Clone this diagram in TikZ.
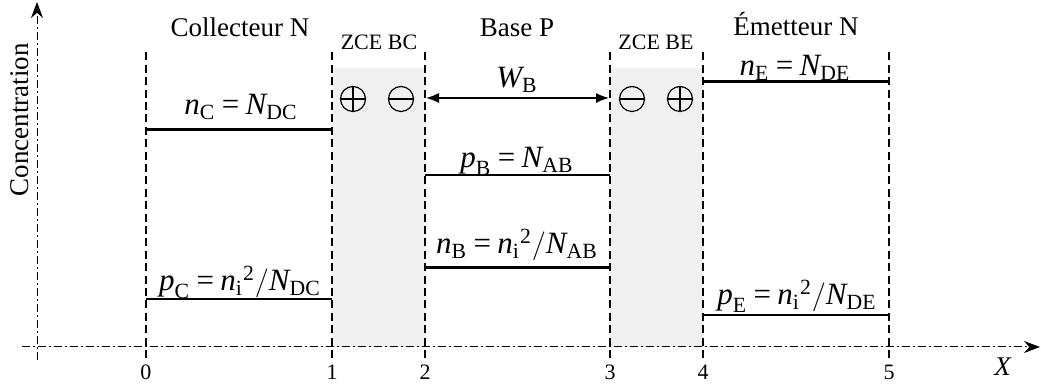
\documentclass[tikz,border=0pt]{standalone}
\usepackage{amsmath}
\usepackage{fontspec}
\setmainfont{Liberation Serif}
\usetikzlibrary{arrows.meta,positioning}

\newcommand{\vr}[1]{\text{\itshape #1}}
\newcommand{\eqs}{\mskip4mu\text{=}\mskip4mu}
\newcommand{\nisq}{\vr{n}_{\text{i}}{}^{\text{2}}}

\begin{document}
\begin{tikzpicture}[
  x=0.5pt,y=0.5pt,
  font=\fontsize{13.5}{16}\selectfont,
  zone/.style={font=\fontsize{11}{13}\selectfont},
  lbl/.style={anchor=base,inner sep=0pt},
  conc/.style={lbl,font=\fontsize{15.5}{18}\selectfont},
  bound/.style={line width=0.6pt,dash pattern=on 4pt off 2.2pt},
  axis/.style={line width=0.5pt,dash pattern=on 4pt off 1.5pt on 1pt off 1.5pt,-{Stealth[length=8pt,width=6pt]}},
  major/.style={line width=1.5pt},
  minor/.style={line width=0.7pt},
  charge/.style={draw,circle,minimum size=12.5pt,inner sep=0pt,line width=0.6pt},
  plus/.style={charge,path picture={\draw[line width=0.6pt]
      (path picture bounding box.west) -- (path picture bounding box.east)
      (path picture bounding box.north) -- (path picture bounding box.south);}},
  minus/.style={charge,path picture={\draw[line width=0.6pt]
      (path picture bounding box.west) -- (path picture bounding box.east);}},
  dim/.style={{Latex[length=6.5pt,width=5pt]}-{Latex[length=6.5pt,width=5pt]},line width=0.7pt}
]
\useasboundingbox (0,0) rectangle (1041,390);

\fill[black!6] (332,43) rectangle (425,322);
\fill[black!6] (610,43) rectangle (703,322);

\coordinate (ybot) at (37,30);
\coordinate (ytop) at (37,388);
\coordinate (xlft) at (22,43);
\coordinate (xrgt) at (1040,43);
\draw[axis] (ybot) -- (ytop);
\draw[axis] (xlft) -- (xrgt);

\foreach \i/\x in {0/146,1/332,2/425,3/610,4/703,5/889} {
  \draw[bound] (\x,32) -- (\x,338);
  \node[zone] (t\i) at (\x,18) {\i};
}

\node[rotate=90] (axlab) at (20,270) {Concentration};
\node (xlab) at (1003,23) {\textit{X}};

\node[lbl] (coll) at (240,353) {Collecteur N};
\node[lbl] (base) at (517,353) {Base P};
\node[lbl] (emet) at (796,354) {Émetteur N};
\node[lbl,zone] (zbc) at (379,340) {ZCE BC};
\node[lbl,zone] (zbe) at (656,340) {ZCE BE};

\node[plus] (bcp) at (353,291) {};
\node[minus] (bcm) at (401,291) {};
\node[minus] (bem) at (632,291) {};
\node[plus] (bep) at (680,291) {};

\coordinate (wl) at (426,292);
\coordinate (wr) at (609,292);
\draw[dim] (wl) -- (wr);
\node[conc] (wb) at (517,302) {$\vr{W}_{\text{B}}$};

\draw[major] (146,260) -- (332,260);
\node[conc] (nc) at (241,275) {$\vr{n}_{\text{C}} \eqs \vr{N}_{\text{DC}}$};
\draw[minor] (146,91) -- (332,91);
\node[conc] (pc) at (240,99) {$\vr{p}_{\text{C}} \eqs \nisq/\vr{N}_{\text{DC}}$};

\draw[minor] (425,215) -- (610,215);
\node[conc] (pb) at (517,222) {$\vr{p}_{\text{B}} \eqs \vr{N}_{\text{AB}}$};
\draw[major] (425,122) -- (610,122);
\node[conc] (nb) at (517,136) {$\vr{n}_{\text{B}} \eqs \nisq/\vr{N}_{\text{AB}}$};

\draw[major] (703,308) -- (889,308);
\node[conc] (ne) at (795,314) {$\vr{n}_{\text{E}} \eqs \vr{N}_{\text{DE}}$};
\draw[minor] (703,75) -- (889,75);
\node[conc] (pe) at (797,85) {$\vr{p}_{\text{E}} \eqs \nisq/\vr{N}_{\text{DE}}$};
\end{tikzpicture}
\end{document}
